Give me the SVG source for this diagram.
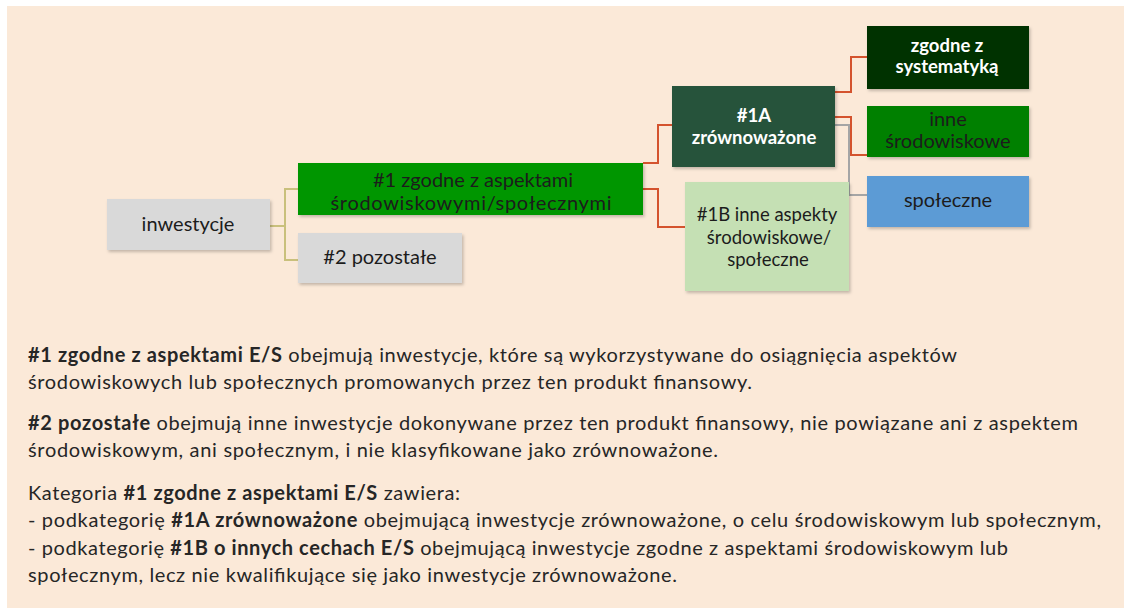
<svg xmlns="http://www.w3.org/2000/svg" width="1124" height="608" viewBox="0 0 1124 608">
  <defs>
    <filter id="sh" x="-10%" y="-10%" width="125%" height="130%">
      <feDropShadow dx="1.5" dy="2" stdDeviation="1.5" flood-color="#000" flood-opacity="0.22"/>
    </filter>
  </defs>
  <style>
    .bx { filter: url(#sh); }
    .t { font-family: Lato, "Open Sans", "Liberation Sans", sans-serif; font-size: 20px; fill: #1c1c1c; text-anchor: middle; }
    .s { font-size: 18.5px; }
    .tw { font-family: Lato, "Open Sans", "Liberation Sans", sans-serif; font-size: 18.5px; fill: #ffffff; font-weight: bold; text-anchor: middle; }
    .p { font-family: Lato, "Open Sans", "Liberation Sans", sans-serif; font-size: 20px; fill: #262626; }
    .b { font-weight: bold; }
    .red { fill: none; stroke: #d4532e; stroke-width: 2; }
    .olive { fill: none; stroke: #c9c07c; stroke-width: 2; }
    .gray { fill: none; stroke: #a5a5a5; stroke-width: 2; }
  </style>
  <rect x="0" y="0" width="1124" height="608" fill="#ffffff"/>
  <rect x="7" y="6" width="1117" height="602" fill="#fbe9d8"/>

  <g id="connectors">
    <path class="olive" d="M270 226 H285" stroke-width="4"/>
    <path class="olive" d="M298 189 H285 V260 H298"/>
    <path class="red" d="M643 163 H658 V125 H672"/>
    <path class="red" d="M643 189 H658 V227 H685"/>
    <path class="red" d="M835 92 H851 V57 H867"/>
    <path class="red" d="M835 117 H851 V155 H867"/>
    <path class="gray" d="M835 125 H849 V195 H867"/>
  </g>

  <g id="inwestycje">
    <rect class="bx" x="107" y="199" width="163" height="51" fill="#d9d9d9"/>
    <text class="t" x="188" y="231">inwestycje</text>
  </g>

  <g id="n1">
    <rect class="bx" x="298" y="163" width="345" height="52" fill="#019601"/>
    <text class="t" x="473" y="187">#1 zgodne z aspektami</text>
    <text class="t" x="471" y="210" textLength="281">środowiskowymi/społecznymi</text>
  </g>

  <g id="n2">
    <rect class="bx" x="298" y="233" width="164" height="50" fill="#d9d9d9"/>
    <text class="t" x="380" y="264">#2 pozostałe</text>
  </g>

  <g id="n1A">
    <rect class="bx" x="672" y="86" width="163" height="81" fill="#27523a"/>
    <text class="tw" x="754" y="122">#1A</text>
    <text class="tw" x="754" y="144">zrównoważone</text>
  </g>

  <g id="n1B">
    <rect class="bx" x="685" y="182" width="164" height="109" fill="#c5e0b4"/>
    <text class="t s" x="767" y="221">#1B inne aspekty</text>
    <text class="t s" x="769" y="243.5">środowiskowe/</text>
    <text class="t s" x="768" y="266">społeczne</text>
  </g>

  <g id="systematyka">
    <rect class="bx" x="867" y="26" width="162" height="63" fill="#013301"/>
    <text class="tw" x="947" y="52">zgodne z</text>
    <text class="tw" x="947" y="73">systematyką</text>
  </g>

  <g id="srodowiskowe">
    <rect class="bx" x="867" y="106" width="162" height="51" fill="#008000"/>
    <text class="t" x="948" y="126">inne</text>
    <text class="t" x="948" y="148">środowiskowe</text>
  </g>

  <g id="spoleczne">
    <rect class="bx" x="867" y="176" width="162" height="51" fill="#5b9bd5"/>
    <text class="t" x="948" y="207">społeczne</text>
  </g>

  <g id="opis">
    <text class="p" x="28" y="362" textLength="929"><tspan class="b">#1 zgodne z aspektami E/S</tspan> obejmują inwestycje, które są wykorzystywane do osiągnięcia aspektów</text>
    <text class="p" x="28" y="389" textLength="724">środowiskowych lub społecznych promowanych przez ten produkt finansowy.</text>
    <text class="p" x="28" y="430" textLength="1050"><tspan class="b">#2 pozostałe</tspan> obejmują inne inwestycje dokonywane przez ten produkt finansowy, nie powiązane ani z aspektem</text>
    <text class="p" x="28" y="457" textLength="690">środowiskowym, ani społecznym, i nie klasyfikowane jako zrównoważone.</text>
    <text class="p" x="28" y="500" textLength="432">Kategoria <tspan class="b">#1 zgodne z aspektami E/S</tspan> zawiera:</text>
    <text class="p" x="28" y="527" textLength="1073">- podkategorię <tspan class="b">#1A zrównoważone</tspan> obejmującą inwestycje zrównoważone, o celu środowiskowym lub społecznym,</text>
    <text class="p" x="28" y="555" textLength="980">- podkategorię <tspan class="b">#1B o innych cechach E/S</tspan> obejmującą inwestycje zgodne z aspektami środowiskowym lub</text>
    <text class="p" x="28" y="582" textLength="649">społecznym, lecz nie kwalifikujące się jako inwestycje zrównoważone.</text>
  </g>
</svg>
